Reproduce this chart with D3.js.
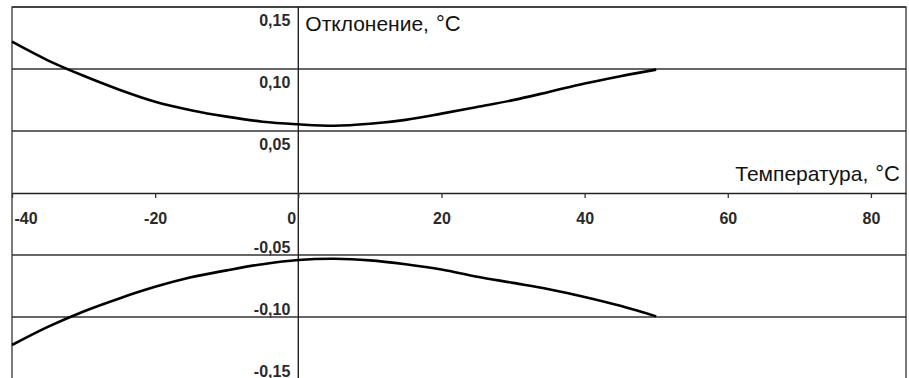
<!DOCTYPE html>
<html>
<head>
<meta charset="utf-8">
<script src="https://cdn.jsdelivr.net/npm/d3@7"></script>
<style>
  body { margin: 0; background: #fff; }
  svg { display: block; }
  .tick text { font-family: "Liberation Sans", Arial, sans-serif; font-weight: bold; font-size: 16px; fill: #2a2a2a; }
</style>
</head>
<body>
<div id="chart"></div>
<script>
// data: tolerance band of the sensor
var temps = [-40, -35, -30, -25, -20, -15, -10, -5, 0, 5, 10, 15, 20, 25, 30, 35, 40, 45, 50];
var upperDev = [0.122, 0.107, 0.0945, 0.0833, 0.0736, 0.0668, 0.0616, 0.0575, 0.0554, 0.0542, 0.0558, 0.059, 0.064, 0.0694, 0.0749, 0.0815, 0.0883, 0.0942, 0.0995];
var lowerDev = [-0.1226, -0.108, -0.0955, -0.085, -0.0757, -0.068, -0.0624, -0.0574, -0.054, -0.053, -0.0543, -0.0575, -0.0617, -0.0675, -0.0725, -0.0776, -0.0838, -0.091, -0.0995];
var xTicks = [-40, -20, 0, 20, 40, 60, 80];
var yTicks = [0.15, 0.10, 0.05, -0.05, -0.10, -0.15];

var W = 909, H = 378;
// plot frame edges (the bottom edge sits just below the window)
var frameLeft = 12, frameRight = 906, frameTop = 7, frameBottom = 379;

var svg = d3.select("#chart").append("svg")
  .attr("width", W)
  .attr("height", H);

var x = d3.scaleLinear().domain([-40, 84.9]).range([frameLeft, frameRight]);
var y = d3.scaleLinear().domain([0.15, -0.15]).range([frameTop, frameBottom]);

var fmt = function(v) { return d3.format(".2f")(v).replace(".", ",").replace("−", "-"); };

// horizontal grid lines
svg.selectAll("line.grid")
  .data(yTicks)
  .enter()
  .append("line")
  .attr("class", "grid")
  .attr("x1", frameLeft).attr("x2", frameRight)
  .attr("y1", function(d) { return y(d); })
  .attr("y2", function(d) { return y(d); })
  .attr("stroke", "#333")
  .attr("stroke-width", 1.3);

// frame
svg.append("rect")
  .attr("x", frameLeft).attr("y", frameTop)
  .attr("width", frameRight - frameLeft).attr("height", frameBottom - frameTop)
  .attr("fill", "none")
  .attr("stroke", "#333")
  .attr("stroke-width", 1.3);

// vertical axis
svg.append("line")
  .attr("x1", x(0)).attr("x2", x(0))
  .attr("y1", frameTop).attr("y2", frameBottom)
  .attr("stroke", "#222")
  .attr("stroke-width", 1.4);

// x axis through zero
var xAxis = svg.append("g")
  .attr("transform", "translate(0," + y(0) + ")")
  .call(d3.axisBottom(x).tickValues(xTicks).tickSizeInner(5).tickSizeOuter(0).tickFormat(d3.format("d")));
xAxis.select(".domain").attr("stroke", "#222").attr("stroke-width", 1.4);
xAxis.selectAll(".tick line").attr("stroke", "#333").attr("stroke-width", 1.3);
xAxis.selectAll(".tick text")
  .attr("dy", null)
  .attr("y", 31)
  .text(function(d) { return String(d).replace("−", "-"); })
  .attr("text-anchor", function(d) { return d === -40 ? "start" : "middle"; })
  .attr("dx", function(d) { return d === -40 ? 2 : (d === 0 ? -7 : 0); });

// y labels: positive below their line, negative above
var yAxis = svg.append("g")
  .attr("transform", "translate(" + (x(0) - 8) + ",0)")
  .call(d3.axisLeft(y).tickValues(yTicks).tickSize(0).tickPadding(0).tickFormat(fmt));
yAxis.select(".domain").remove();
yAxis.selectAll(".tick text")
  .attr("x", 0)
  .attr("text-anchor", "end")
  .attr("dy", function(d) { return d > 0 ? 18.5 : -3; });

// curves
var line = d3.line()
  .x(function(d) { return x(d[0]); })
  .y(function(d) { return y(d[1]); })
  .curve(d3.curveCatmullRom);

[upperDev, lowerDev].forEach(function(series) {
  svg.append("path")
    .datum(temps.map(function(t, i) { return [t, series[i]]; }))
    .attr("d", line)
    .attr("fill", "none")
    .attr("stroke", "#000")
    .attr("stroke-width", 2.6);
});

// axis titles
var yTitle = svg.append("text")
  .attr("x", x(0) + 7).attr("y", 31)
  .style("font-family", "'Liberation Sans', Arial, sans-serif")
  .style("font-size", "21px")
  .attr("fill", "#111");
yTitle.append("tspan").text("Отклонение,");
yTitle.append("tspan").attr("dx", 7).style("font-size", "22px").text("°C");

var xTitle = svg.append("text")
  .attr("x", 900).attr("y", 181)
  .attr("text-anchor", "end")
  .style("font-family", "'Liberation Sans', Arial, sans-serif")
  .style("font-size", "21px")
  .attr("fill", "#111");
xTitle.append("tspan").text("Температура,");
xTitle.append("tspan").attr("dx", 7).style("font-size", "22px").text("°C");
</script>
</body>
</html>
